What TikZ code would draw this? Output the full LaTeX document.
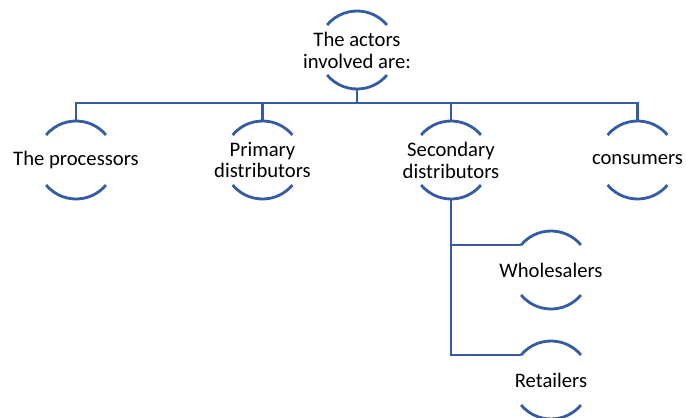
\documentclass[tikz,border=0pt]{standalone}
\usepackage{fontspec}
\setmainfont{Carlito}
\definecolor{lineblue}{RGB}{52,92,163}
\tikzset{
  ring/.style={circle, draw=none, inner sep=0pt, outer sep=0pt, minimum size=58.5pt},
  txt/.style={align=center, inner sep=0pt, font=\fontsize{15.5pt}{16.4pt}\selectfont},
  arcline/.style={draw=lineblue, line width=2.1pt},
  conn/.style={draw=lineblue, line width=2.1pt}
}
\newcommand{\ringarcs}[1]{%
  \draw[arcline] (#1.140) arc[start angle=140, end angle=40, radius=29.25pt];
  \draw[arcline] (#1.220) arc[start angle=220, end angle=320, radius=29.25pt];
}
\begin{document}
\begin{tikzpicture}[x=0.75pt, y=-0.75pt]
\useasboundingbox (0,0) rectangle (686,418);
% nodes
\node[ring] (top) at (357,50) {};
\node[ring] (proc) at (76,160) {};
\node[ring] (prim) at (262.5,160) {};
\node[ring] (sec) at (451,160) {};
\node[ring] (cons) at (637.5,160) {};
\node[ring] (whole) at (551,270) {};
\node[ring] (ret) at (551,380) {};
\coordinate (bus) at (357,103);
% texts
\node[txt] (ttop) at (top) {The actors\\involved are:};
\node[txt] (tproc) at (proc) {The processors};
\node[txt] (tprim) at (prim) {Primary\\distributors};
\node[txt] (tsec) at (sec) {Secondary\\distributors};
\node[txt] (tcons) at (cons) {consumers};
\node[txt] (twhole) at (whole) {Wholesalers};
\node[txt] (tret) at (ret) {Retailers};
% arcs
\ringarcs{top}
\ringarcs{proc}
\ringarcs{prim}
\ringarcs{sec}
\ringarcs{cons}
\ringarcs{whole}
\ringarcs{ret}
% connectors
\draw[conn] (top.south) -- (bus);
\draw[conn] (proc.north) -- (proc.north |- bus) -- (cons.north |- bus) -- (cons.north);
\draw[conn] (prim.north) -- (prim.north |- bus);
\draw[conn] (sec.north) -- (sec.north |- bus);
\draw[conn] (sec.south) |- (ret.140);
\draw[conn] (sec.south |- whole.140) -- (whole.140);
\end{tikzpicture}
\end{document}
